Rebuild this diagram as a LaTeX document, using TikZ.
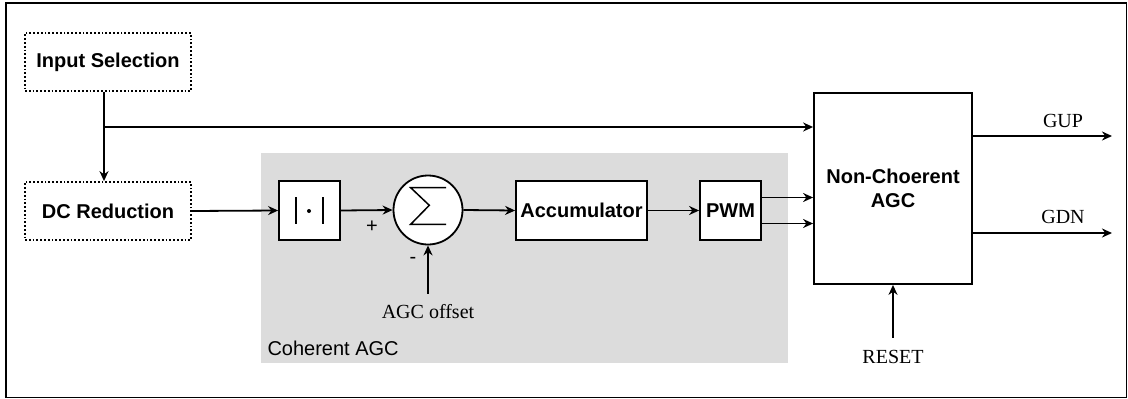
\documentclass[tikz,border=0pt]{standalone}
\usepackage{fontspec}
\setmainfont{Liberation Serif}
\setsansfont{Liberation Sans}
\usetikzlibrary{arrows.meta}
\definecolor{agcgray}{RGB}{220,220,220}

\begin{document}
\begin{tikzpicture}[x=1pt,y=-1pt,
  >={Stealth[length=10pt,width=9pt]},
  blok/.style={draw,line width=1.8pt,fill=white,inner sep=0pt,
    font=\sffamily\bfseries\fontsize{20}{24}\selectfont},
  vyber/.style={blok,dotted,fill=none,minimum width=166pt,minimum height=58pt},
  signal/.style={font=\fontsize{20}{24}\selectfont},
  spoj/.style={->,line width=1.8pt}]
\useasboundingbox (0,0) rectangle (1128,399);
\draw[line width=1.8pt] (6,3) rectangle (1126.5,397.5);

% Coherent AGC
\fill[agcgray] (261,153) rectangle (788,363);
\node[anchor=west,font=\sffamily\fontsize{20}{24}\selectfont] (cagc) at (264,348) {Coherent AGC};

\node[vyber] (insel) at (108,62) {Input Selection};
\node[vyber] (dcred) at (108,211) {DC Reduction};
\node[blok,minimum width=61pt,minimum height=59pt] (abs) at (309.5,210.5) {};
\node[blok,circle,minimum size=69pt] (sum) at (428,210) {};
\node[blok,minimum width=131pt,minimum height=59pt] (acc) at (581.5,210.5) {Accumulator};
\node[blok,minimum width=61pt,minimum height=59pt] (pwm) at (730.5,210.5) {PWM};
\node[blok,minimum width=158pt,minimum height=191pt,align=center] (ncagc) at (893,188.5)
  {Non-Choerent\\AGC};

% |.| a suma
\draw[line width=1.6pt] ([shift={(-13.5,-13.5)}]abs.center) -- ([shift={(-13.5,13.5)}]abs.center);
\draw[line width=1.6pt] ([shift={(13.5,-13.5)}]abs.center) -- ([shift={(13.5,13.5)}]abs.center);
\fill ([shift={(-0.5,0.5)}]abs.center) circle (2pt);
\draw[line width=1.5pt] ([shift={(18,-22.3)}]sum.center) -- ([shift={(-17.3,-22.3)}]sum.center)
  -- ([shift={(1.3,-4.7)}]sum.center) -- ([shift={(-17.3,14.3)}]sum.center)
  -- ([shift={(18,14.3)}]sum.center);

\node[font=\sffamily\fontsize{20}{24}\selectfont] (plus) at (372,227) {+};
\node[font=\sffamily\fontsize{20}{24}\selectfont] (minus) at (413,260) {-};
\node[signal] (offset) at (428,312) {AGC offset};
\node[signal] (reset) at (893,357) {RESET};
\node[signal] (gup) at (1063,121) {GUP};
\node[signal] (gdn) at (1063,217) {GDN};
\coordinate (split) at (104,127);
\coordinate (gupend) at (1112,136);
\coordinate (gdnend) at (1112,233);

% spoje
\draw[spoj] (insel.south -| split) -- (dcred.north -| split);
\draw[spoj] (split) -- (ncagc.west |- split);
\draw[spoj] (dcred.east) -- (abs.west);
\draw[spoj] (abs.east) -- (sum.west);
\draw[spoj] ([yshift=7.7pt]offset.north) -- (sum.south);
\draw[spoj] (sum.east) -- (acc.west);
\draw[spoj] (acc.east) -- (pwm.west);
\draw[spoj] ([yshift=13pt]pwm.east) -- ([yshift=13pt]pwm.east -| ncagc.west);
\draw[spoj] ([yshift=-13pt]pwm.east) -- ([yshift=-13pt]pwm.east -| ncagc.west);
\draw[spoj] (ncagc.east |- gupend) -- (gupend);
\draw[spoj] (ncagc.east |- gdnend) -- (gdnend);
\draw[spoj] ([yshift=9pt]reset.north) -- (ncagc.south);
\end{tikzpicture}
\end{document}
